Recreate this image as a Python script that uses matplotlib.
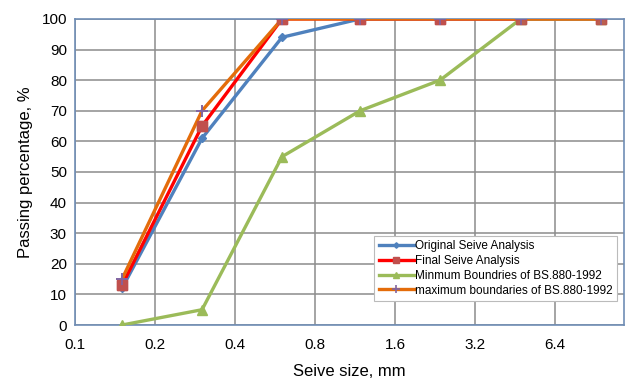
import matplotlib
matplotlib.use("Agg")
import matplotlib.pyplot as plt
from matplotlib.ticker import FixedLocator, FixedFormatter, NullLocator

plt.rcParams['font.family'] = ['Liberation Sans', 'DejaVu Sans']

# sieve sizes (mm) and passing percentages
sieve = [0.15, 0.3, 0.6, 1.18, 2.36, 4.75, 9.5]
original = [12, 61, 94, 100, 100, 100, 100]
final = [13, 65, 100, 100, 100, 100, 100]
minimum = [0, 5, 55, 70, 80, 100, 100]
maximum = [15, 70, 100, 100, 100, 100, 100]

xticks = [0.1, 0.2, 0.4, 0.8, 1.6, 3.2, 6.4]
xlabels = ['0.1', '0.2', '0.4', '0.8', '1.6', '3.2', '6.4']

fig = plt.figure(figsize=(6.27, 3.86), dpi=100)
ax = fig.add_axes([0.12, 0.158, 0.875, 0.793])

lw = 2.4
ax.plot(sieve, original, color='#4F81BD', lw=lw, marker='D', ms=4,
        mfc='#4F81BD', mec='#4F81BD', label='Original Seive Analysis', zorder=3)
ax.plot(sieve, final, color='#FF0000', lw=lw, marker='s', ms=7,
        mfc='#C0504D', mec='#C0504D', label='Final Seive Analysis', zorder=3)
ax.plot(sieve, minimum, color='#9BBB59', lw=lw, marker='^', ms=7,
        mfc='#9BBB59', mec='#9BBB59', label='Minmum Boundries of BS.880-1992', zorder=3)
ax.plot(sieve, maximum, color='#E46C0A', lw=lw, marker='+', ms=9, mew=1.2,
        mfc='#8064A2', mec='#8064A2', label='maximum boundaries of BS.880-1992', zorder=4)
# markers drawn over the lines, like the spreadsheet does
ax.plot(sieve, final, ls='none', marker='s', ms=7, mfc='#C0504D', mec='#C0504D',
        alpha=0.85, zorder=5)
ax.plot(sieve, maximum, ls='none', marker='+', ms=9, mew=1.2, mec='#8064A2', zorder=6)

ax.set_xscale('log', base=2)
ax.set_xlim(0.1, 11.6)
ax.set_ylim(0, 100)
ax.xaxis.set_major_locator(FixedLocator(xticks))
ax.xaxis.set_major_formatter(FixedFormatter(xlabels))
ax.xaxis.set_minor_locator(NullLocator())
ax.set_yticks(range(0, 101, 10))

ax.grid(True, color='#8C8C8C', lw=1.1)
ax.set_axisbelow(True)
for s in ax.spines.values():
    s.set_color('#6F8DB5')
    s.set_linewidth(1.2)
ax.tick_params(length=0, labelsize=11, pad=6)
ax.tick_params(axis='x', pad=9)

ax.set_xlabel('Seive size, mm', fontsize=12, labelpad=9)
ax.set_ylabel('Passing percentage, %', fontsize=12, labelpad=6)

leg = ax.legend(loc='lower right', bbox_to_anchor=(0.998, 0.06), fontsize=8.5,
                numpoints=1, handlelength=3.0, handletextpad=0.1,
                borderpad=0.35, labelspacing=0.25, frameon=True, fancybox=False,
                framealpha=1, markerscale=0.7)
leg.get_frame().set_edgecolor('#BBBBBB')
leg.get_frame().set_linewidth(0.8)

fig.savefig('out.png', dpi=100)
